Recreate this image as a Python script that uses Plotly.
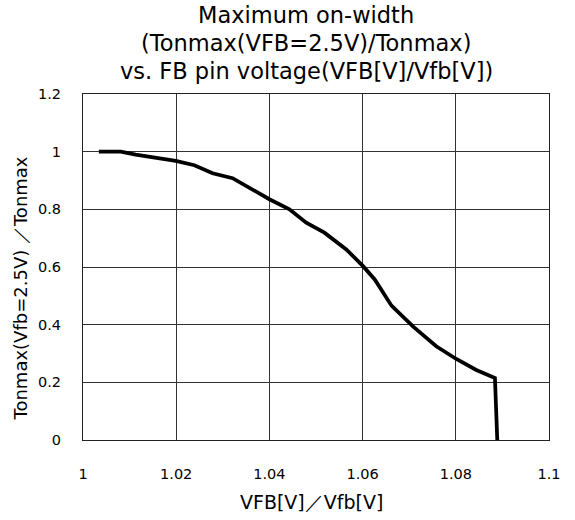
import plotly.graph_objects as go

vfb_ratio = [1.0034, 1.0081, 1.0113, 1.0199, 1.0239, 1.0278, 1.0321, 1.0400, 1.0443,
             1.0479, 1.0518, 1.0565, 1.0601, 1.0626, 1.0662, 1.0708, 1.0758, 1.0801,
             1.0844, 1.0884, 1.0889]
ton_ratio = [1.000, 1.000, 0.990, 0.968, 0.953, 0.925, 0.908, 0.835, 0.800,
             0.754, 0.719, 0.661, 0.603, 0.557, 0.466, 0.394, 0.325, 0.281,
             0.243, 0.215, 0.0]

x_ticks = [1, 1.02, 1.04, 1.06, 1.08, 1.1]
x_labels = ["1", "1.02", "1.04", "1.06", "1.08", "1.1"]
y_ticks = [0, 0.2, 0.4, 0.6, 0.8, 1, 1.2]
y_labels = ["0", "0.2", "0.4", "0.6", "0.8", "1", "1.2"]

title_lines = ["Maximum on-width",
               "(Tonmax(VFB=2.5V)/Tonmax)",
               "vs. FB pin voltage(VFB[V]/Vfb[V])"]
x_title = "VFB[V]／Vfb[V]"
y_title = "Tonmax(Vfb=2.5V) ／Tonmax"

font = "DejaVu Sans, Liberation Sans, Arial, sans-serif"

W, H = 575, 520
L, R, T, B = 83, 26, 94, 80
pw, ph = W - L - R, H - T - B


def px_to_paper(px, py):
    return (px - L) / pw, (H - B - py) / ph


fig = go.Figure()
fig.add_trace(go.Scatter(x=vfb_ratio, y=ton_ratio, mode="lines",
                         line=dict(color="black", width=3.75), showlegend=False))

annotations = []
for text, cy in zip(title_lines, [15, 43, 71.5]):
    ax, ay = px_to_paper(306, cy)
    annotations.append(dict(text=text, x=ax, y=ay, xref="paper", yref="paper",
                            xanchor="center", yanchor="middle", showarrow=False,
                            font=dict(family=font, size=22.5, color="black")))
ax, ay = px_to_paper(20, 288.5)
annotations.append(dict(text=y_title, x=ax, y=ay, xref="paper", yref="paper",
                        xanchor="center", yanchor="middle", showarrow=False, textangle=-90,
                        font=dict(family=font, size=18, color="black")))
ax, ay = px_to_paper(311.5, 502)
annotations.append(dict(text=x_title, x=ax, y=ay, xref="paper", yref="paper",
                        xanchor="center", yanchor="middle", showarrow=False,
                        font=dict(family=font, size=19, color="black")))

fig.update_layout(
    width=W, height=H,
    margin=dict(l=L, r=R, t=T, b=B),
    paper_bgcolor="white", plot_bgcolor="white",
    font=dict(family=font, size=14, color="black"),
    annotations=annotations,
    xaxis=dict(
        range=[1, 1.1], tickvals=x_ticks, ticktext=x_labels,
        showgrid=True, gridcolor="#333", gridwidth=1,
        showline=True, linecolor="#222", linewidth=1, mirror=True,
        ticks="", ticklabelstandoff=21, zeroline=False,
        tickfont=dict(size=14.5),
    ),
    yaxis=dict(
        range=[0, 1.2], tickvals=y_ticks, ticktext=y_labels,
        showgrid=True, gridcolor="#333", gridwidth=1,
        showline=True, linecolor="#222", linewidth=1, mirror=True,
        ticks="", ticklabelstandoff=18, zeroline=False,
        tickfont=dict(size=14.5),
    ),
)

fig.write_html("out.html")
